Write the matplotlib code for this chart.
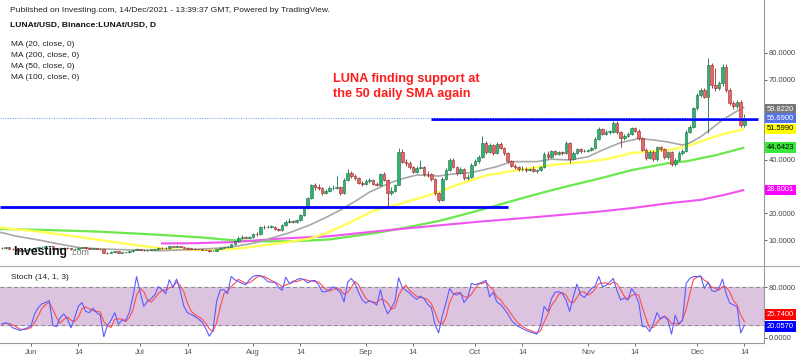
import matplotlib.pyplot as plt
import numpy as np
import pandas as pd
from matplotlib.lines import Line2D
from matplotlib.transforms import offset_copy

plt.rcParams['font.family'] = ['Liberation Sans', 'DejaVu Sans']

# daily LUNA candles, day 0 = 1 Jun 2021, first candle 24 May, last 14 Dec
first_day = -8
first_open = 7.2
closes = [
    7.0, 7.3, 6.9, 6.6, 6.3, 6.1, 6.3, 6.5, 6.6, 7.1,
    7.4, 7.6, 7.7, 7.8, 6.9, 6.8, 7.1, 7.2, 7.0, 6.6,
    6.9, 7.2, 7.3, 7.0, 6.9, 7.0, 6.8, 6.6, 5.4, 5.2,
    5.6, 5.9, 5.4, 5.5, 5.5, 5.8, 6.3, 6.8, 6.4, 6.2,
    6.4, 6.5, 6.6, 7.2, 7.1, 7.0, 7.8, 7.6, 7.9, 7.5,
    7.1, 6.9, 6.8, 6.7, 6.6, 6.5, 6.3, 5.9, 6.1, 6.8,
    7.2, 7.3, 7.4, 8.5, 9.6, 11.0, 11.2, 11.0, 11.3, 12.3,
    12.2, 15.1, 14.9, 15.0, 15.1, 14.3, 13.8, 15.6, 17.0, 17.1,
    16.7, 17.6, 19.4, 21.9, 25.7, 30.5, 29.8, 29.4, 27.6, 28.5,
    29.5, 29.6, 29.9, 27.6, 32.5, 35.3, 34.0, 33.1, 31.5, 31.2,
    32.0, 32.5, 31.2, 30.8, 34.6, 32.5, 27.6, 28.5, 30.7, 43.1,
    39.4, 38.8, 37.3, 35.6, 37.0, 37.4, 34.8, 34.6, 32.8, 27.6,
    25.1, 33.0, 36.3, 40.0, 37.5, 35.0, 36.5, 33.1, 33.5, 38.3,
    39.5, 41.2, 46.2, 43.0, 45.5, 42.6, 46.0, 44.6, 42.5, 39.5,
    37.8, 37.2, 36.5, 36.8, 36.2, 36.6, 36.0, 36.2, 37.4, 42.4,
    41.0, 43.3, 42.3, 42.8, 42.6, 46.5, 40.5, 42.6, 44.0, 43.2,
    43.5, 43.7, 44.5, 48.0, 51.5, 49.8, 50.5, 50.6, 54.0, 50.3,
    48.1, 49.0, 49.8, 51.8, 51.0, 48.1, 43.7, 40.6, 43.1, 40.2,
    44.8, 44.0, 41.0, 42.8, 38.4, 40.0, 42.6, 43.4, 50.6, 52.4,
    59.3, 64.3, 66.2, 63.7, 75.5, 68.0, 66.8, 68.7, 74.9, 66.2,
    61.2, 60.0, 61.8, 53.0, 55.69,
]
highs = [
    7.4, 7.6, 7.4, 7.0, 6.7, 6.5, 6.5, 6.7, 6.9, 7.3,
    7.6, 7.9, 7.9, 8.0, 7.9, 7.1, 7.3, 7.4, 7.3, 7.1,
    7.0, 7.4, 7.5, 7.4, 7.1, 7.2, 7.1, 6.9, 6.7, 5.7,
    5.8, 6.1, 6.0, 5.7, 5.7, 6.0, 6.5, 7.0, 6.9, 6.6,
    6.6, 6.7, 6.8, 7.4, 7.4, 7.3, 8.0, 8.0, 8.1, 8.0,
    7.6, 7.3, 7.1, 7.0, 6.9, 6.8, 6.7, 6.4, 6.3, 6.9,
    7.4, 7.5, 7.7, 8.7, 9.9, 11.5, 11.8, 11.6, 11.6, 12.6,
    12.9, 15.4, 15.8, 15.6, 15.7, 15.4, 14.6, 15.9, 17.5, 18.3,
    17.5, 18.0, 19.8, 22.4, 26.3, 31.0, 31.5, 31.0, 30.0, 29.2,
    30.2, 30.5, 34.0, 30.4, 33.2, 36.5, 35.8, 34.8, 33.6, 32.3,
    32.8, 33.3, 33.0, 31.8, 35.2, 35.4, 33.0, 29.8, 31.2, 44.4,
    44.0, 40.5, 39.5, 37.8, 37.8, 40.0, 37.8, 35.8, 35.0, 33.2,
    28.2, 33.5, 37.0, 40.8, 40.6, 37.9, 37.2, 37.0, 34.6, 38.8,
    40.2, 41.8, 49.0, 47.0, 46.2, 46.0, 46.8, 46.6, 45.0, 42.9,
    39.9, 38.4, 37.6, 37.6, 37.2, 37.0, 37.8, 36.8, 37.8, 42.9,
    43.5, 43.8, 43.8, 43.4, 43.3, 47.2, 46.8, 43.2, 44.6, 44.6,
    44.1, 44.2, 45.0, 48.5, 52.3, 52.0, 51.2, 51.3, 54.6, 54.5,
    50.8, 49.6, 50.4, 52.3, 52.2, 51.5, 48.6, 44.3, 43.6, 43.6,
    45.3, 45.4, 44.4, 43.3, 43.2, 40.6, 43.2, 44.0, 51.2, 53.0,
    59.9, 64.9, 67.0, 66.8, 78.0, 76.2, 74.5, 69.4, 76.0, 76.0,
    66.8, 62.0, 62.6, 62.4, 57.2,
]
lows = [
    6.8, 6.9, 6.7, 6.4, 6.1, 5.9, 6.0, 6.2, 6.4, 6.5,
    7.0, 7.3, 7.4, 7.5, 6.8, 6.6, 6.7, 6.9, 6.8, 6.4,
    6.5, 6.8, 7.0, 6.9, 6.7, 6.8, 6.6, 6.4, 5.2, 4.9,
    5.1, 5.4, 5.3, 5.2, 5.3, 5.4, 5.7, 6.2, 6.3, 6.0,
    6.1, 6.3, 6.4, 6.5, 6.9, 6.8, 6.9, 7.4, 7.5, 7.3,
    7.0, 6.8, 6.6, 6.5, 6.4, 6.3, 6.2, 5.7, 5.8, 6.0,
    6.7, 7.0, 7.1, 7.3, 8.3, 9.3, 10.6, 10.7, 10.8, 11.0,
    11.7, 12.0, 14.2, 14.5, 14.6, 14.0, 13.4, 13.6, 15.2, 16.5,
    16.3, 16.5, 17.3, 19.0, 21.5, 25.3, 28.7, 28.6, 27.0, 27.2,
    28.0, 28.8, 29.0, 27.0, 27.2, 32.0, 33.2, 32.4, 31.0, 30.4,
    30.8, 31.5, 30.6, 30.1, 30.3, 32.0, 22.5, 26.8, 28.0, 30.5,
    38.8, 37.8, 36.6, 35.0, 35.2, 36.6, 34.2, 33.8, 32.0, 27.0,
    24.3, 24.8, 32.4, 35.8, 37.0, 34.5, 34.6, 32.6, 32.4, 33.2,
    37.8, 39.0, 40.8, 42.4, 42.6, 42.0, 42.2, 44.0, 42.0, 39.0,
    37.4, 36.7, 36.0, 36.0, 35.4, 35.8, 35.6, 35.2, 35.8, 37.0,
    40.5, 40.7, 41.8, 41.9, 42.0, 42.1, 39.0, 40.0, 42.1, 42.6,
    42.8, 43.0, 43.3, 44.1, 47.5, 49.3, 49.2, 49.8, 50.1, 49.8,
    45.0, 47.6, 48.5, 49.3, 50.6, 47.6, 43.2, 40.0, 40.2, 39.6,
    39.8, 43.5, 40.5, 40.4, 37.8, 37.8, 39.6, 42.0, 43.0, 50.0,
    51.8, 58.8, 63.6, 63.0, 50.0, 67.0, 65.8, 66.0, 67.8, 65.5,
    60.6, 59.2, 59.5, 52.4, 52.2,
]

# Stoch (14, 1, 3) %K
stoch_k = [
    22, 24, 22, 16, 14, 12, 14, 16, 19, 38,
    48, 54, 56, 59, 20, 18, 32, 38, 30, 16,
    32, 50, 56, 42, 40, 47, 40, 36, 2, 20,
    28, 40, 22, 28, 28, 40, 65, 97, 72, 50,
    58, 62, 68, 81, 76, 70, 92, 80, 93, 75,
    50, 40, 37, 34, 30, 25, 15, 3, 12, 58,
    76, 76, 70, 97, 92, 89, 86, 84, 92, 97,
    99, 98, 95, 89, 88, 88, 80, 75, 96, 86,
    88, 92, 94, 92, 87, 90, 91, 84, 73, 73,
    76, 81, 77, 72, 57, 88, 94, 86, 72, 60,
    55, 59, 56, 52, 76, 52, 38, 47, 58, 95,
    80, 75, 71, 65, 61, 66, 62, 53, 48, 21,
    8, 35, 55, 78, 70, 68, 72, 56, 64, 86,
    84, 86, 88, 91, 65, 72, 57, 53, 46, 38,
    28, 22, 18, 15, 12, 10, 8, 6, 20, 50,
    42, 62, 72, 73, 70, 60, 42, 65, 85, 68,
    64, 71, 78, 82, 97, 81, 83, 88, 94, 75,
    60, 63, 60, 78, 70, 55, 18, 18, 10, 23,
    40, 30, 34, 28, 6, 36, 22, 28, 86, 94,
    97, 97, 98, 78, 88, 75, 73, 78, 93, 70,
    55, 52, 49.163, 8, 20.057,
]

# moving averages (day, value)
ma20_pts = [(-8.5, 13.0), (-4, 11.5), (2.5, 10.0), (8, 8.5), (13.5, 7.2), (19, 6.8),
            (24.5, 6.5), (30, 6.3), (35.4, 6.1), (40, 6.3), (46.4, 6.7), (51, 7.0),
            (55.5, 7.6), (60, 8.6), (63, 9.5), (66, 10.8), (71, 12.8), (76.6, 15.7),
            (81, 18.5), (85, 21.3), (89, 24.5), (93, 28.0), (98.6, 31.4), (102, 33.0),
            (106, 34.4), (112, 34.0), (116, 34.8), (121, 35.3), (128, 37.5), (132, 39.4),
            (139, 39.4), (143, 40.3), (148, 40.0), (153, 41.2), (157, 43.7), (162, 46.5),
            (167, 48.0), (171, 47.5), (175, 46.7), (179, 45.6), (181, 46.4), (184, 48.7),
            (186.5, 51.2), (190, 55.0), (193, 57.5), (196, 59.822)]
ma50_pts = [(-8.5, 14.7), (2.5, 13.2), (10, 11.8), (19, 10.1), (26, 8.7), (32.7, 7.5),
            (37.4, 6.6), (42, 6.4), (46.4, 6.4), (55.5, 6.7), (60, 7.4), (64.8, 8.3),
            (70, 9.2), (76.6, 10.6), (81, 12.6), (85, 15.0), (90, 18.2), (94, 21.0),
            (101, 23.5), (106.9, 25.8), (112.4, 28.2), (116, 30.2), (125, 34.2), (134, 36.3),
            (143, 38.1), (153, 39.4), (158, 40.3), (165, 42.6), (175, 43.7), (180, 45.0),
            (186.5, 48.1), (191, 50.0), (196, 51.599)]
ma100_pts = [(-8.5, 14.2), (5, 13.8), (19, 13.2), (33, 12.2), (46.4, 11.1), (55.5, 10.0),
             (64, 9.6), (72, 9.6), (82, 10.3), (90, 11.8), (96, 13.0), (104, 15.0),
             (112, 17.2), (118, 19.3), (124, 21.5), (132, 24.6), (140, 27.6), (148, 30.4),
             (156, 33.0), (165, 36.2), (175, 38.8), (180, 39.5), (188.5, 41.9), (196, 44.6423)]
ma200_pts = [(35.7, 8.8), (45, 8.9), (55.5, 9.3), (68.4, 10.6), (82, 11.5), (96, 13.5),
             (110, 15.3), (123.6, 17.0), (140, 18.8), (156, 20.7), (165, 22.0), (175, 23.8),
             (184, 25.1), (190, 26.8), (196, 28.8001)]

# drawn horizontal levels: (price, from day, to day)
support_line = (22.4, -8.5, 131)
resistance_line = (55.3, 109.9, 199.7)

price_ticks = [10, 20, 30, 40, 50, 60, 70, 80]
hidden_price_ticks = [30, 50, 60]   # covered by the value flags in the original
tick_days = [0, 13, 30, 43, 61, 74, 92, 105, 122, 135, 153, 166, 183, 196]
tick_labels = ['Jun', '14', 'Jul', '14', 'Aug', '14', 'Sep', '14', 'Oct', '14', 'Nov', '14', 'Dec', '14']

days = np.arange(first_day, first_day + len(closes))
opens = [first_open] + closes[:-1]

fig = plt.figure(figsize=(8, 3.57), dpi=100)
ax = fig.add_axes([0, 1 - 266 / 357, 764 / 800, 266 / 357])
ax2 = fig.add_axes([0, 1 - 343 / 357, 764 / 800, 77 / 357], sharex=ax)

ax.set_xlim(-8.52, 201.4)
ax.set_ylim(0.374, 99.8)
ax2.set_ylim(-7.9, 113.6)

# moving averages
for pts, col, lw in [(ma100_pts, '#6be84c', 1.6), (ma200_pts, '#ee55ee', 1.5),
                     (ma50_pts, '#ffff55', 1.7), (ma20_pts, '#a8a8a8', 1.2)]:
    xs, ys = zip(*pts)
    ax.plot(xs, ys, color=col, lw=lw, zorder=2, solid_capstyle='butt')

# candles
o = np.array(opens)
c = np.array(closes)
up = c >= o
body_lo = np.minimum(o, c)
body_h = np.maximum(np.abs(c - o), 0.15)
edge = np.where(up, '#1d6e45', '#8c2b2b')
face = np.where(up, '#2db471', '#ec6464')
ax.vlines(days, lows, highs, colors=edge, lw=0.6, zorder=3)
ax.bar(days, body_h, 0.72, bottom=body_lo, color=face, edgecolor=edge, lw=0.4, zorder=4)

# levels
ax.hlines(support_line[0], support_line[1], support_line[2], color='#0000ff', lw=2.0, zorder=5)
ax.hlines(resistance_line[0], resistance_line[1], resistance_line[2], color='#0000ff', lw=2.0, zorder=5)
ax.hlines(closes[-1], -8.52, resistance_line[2], color='#6f8cff', lw=0.7, ls=(0, (1, 1.5)), zorder=5)

ax.yaxis.tick_right()
ax.set_yticks(price_ticks)
ax.set_yticklabels(['' if t in hidden_price_ticks else '%.4f' % t for t in price_ticks])
ax.tick_params(axis='y', labelsize=5.4, colors='#444444', length=2.5, pad=1, width=0.6)
ax.tick_params(axis='x', bottom=False, labelbottom=False)
for s in ['top', 'left', 'bottom']:
    ax.spines[s].set_visible(False)
ax.spines['right'].set_color('#999999')

# value flags on the price axis
flags = [(ma20_pts[-1][1], '#787878', 'white', -1.5), (closes[-1], '#5574e6', 'white', 0),
         (ma50_pts[-1][1], '#ffff00', 'black', 0), (ma100_pts[-1][1], '#3ae83a', 'black', 0),
         (ma200_pts[-1][1], '#ff00ff', 'white', 0)]
for val, bg, fg, dy in flags:
    tr = offset_copy(ax.get_yaxis_transform(), fig=fig, y=dy, units='points')
    ax.text(1.004, val, '%.4f' % val, transform=tr, ha='left', va='center',
            fontsize=5.4, color=fg, clip_on=False, zorder=10,
            bbox=dict(boxstyle='square,pad=0.25', fc=bg, ec='none'))

# stochastic pane
stoch_d = pd.Series(stoch_k).rolling(3, min_periods=1).mean()
ax2.axhspan(20, 80, color='#dcc3e0', zorder=0)
ax2.axhline(80, color='#8a8a8a', lw=0.7, ls=(0, (4, 3)))
ax2.axhline(20, color='#8a8a8a', lw=0.7, ls=(0, (4, 3)))
ax2.plot(days, stoch_d, color='#ff4d4d', lw=0.8, zorder=3)
ax2.plot(days, stoch_k, color='#5c5cff', lw=0.8, zorder=4)
ax2.yaxis.tick_right()
ax2.set_yticks([0, 80])
ax2.yaxis.set_major_formatter(plt.FormatStrFormatter('%.4f'))
ax2.tick_params(axis='y', labelsize=5.4, colors='#444444', length=2.5, pad=1, width=0.6)
ax2.set_xticks(tick_days)
ax2.set_xticklabels(tick_labels)
ax2.tick_params(axis='x', labelsize=5.6, colors='#555555', length=2.5, pad=1.5, width=0.6)
for s in ['top', 'left']:
    ax2.spines[s].set_visible(False)
ax2.spines['right'].set_color('#999999')
ax2.spines['bottom'].set_color('#999999')
for val, bg, dy in [(stoch_d.iloc[-1], '#ff0000', 5.0), (stoch_k[-1], '#0000ff', -1.0)]:
    tr = offset_copy(ax2.get_yaxis_transform(), fig=fig, y=dy, units='points')
    ax2.text(1.004, val, '%.4f' % val, transform=tr, ha='left', va='center',
             fontsize=5.4, color='white', clip_on=False, zorder=10,
             bbox=dict(boxstyle='square,pad=0.25', fc=bg, ec='none'))
ax2.text(0.0144, 0.857, 'Stoch (14, 1, 3)', transform=ax2.transAxes, fontsize=6.0,
         color='#222222', va='center')

# pane separator across the whole width
fig.add_artist(Line2D([0, 1], [1 - 266 / 357, 1 - 266 / 357], color='#aaaaaa', lw=0.8))


def px(x, y):
    return x / 800, 1 - y / 357


fig.text(*px(10, 10), 'Published on Investing.com, 14/Dec/2021 - 13:39:37 GMT, Powered by TradingView.',
         fontsize=6.1, color='#222222', va='center')
fig.text(*px(10, 25), 'LUNAt/USD, Binance:LUNAt/USD, D', fontsize=6.1, fontweight='bold',
         color='#111111', va='center')
for i, name in enumerate(['MA (20, close, 0)', 'MA (200, close, 0)', 'MA (50, close, 0)', 'MA (100, close, 0)']):
    fig.text(*px(11, 45 + i * 10.7), name, fontsize=6.0, color='#222222', va='center')

fig.text(*px(333, 81.7), 'LUNA finding support at', fontsize=9.2, fontweight='bold',
         color='#ff1c1c', va='baseline')
fig.text(*px(333, 96.7), 'the 50 daily SMA again', fontsize=9.2, fontweight='bold',
         color='#ff1c1c', va='baseline')

fig.text(*px(13, 255), 'Investing', fontsize=8.8, fontweight='heavy', color='#111111', va='baseline')
fig.text(*px(70, 255), '.com', fontsize=6.3, color='#777777', va='baseline')

fig.savefig('out.png', dpi=100)
